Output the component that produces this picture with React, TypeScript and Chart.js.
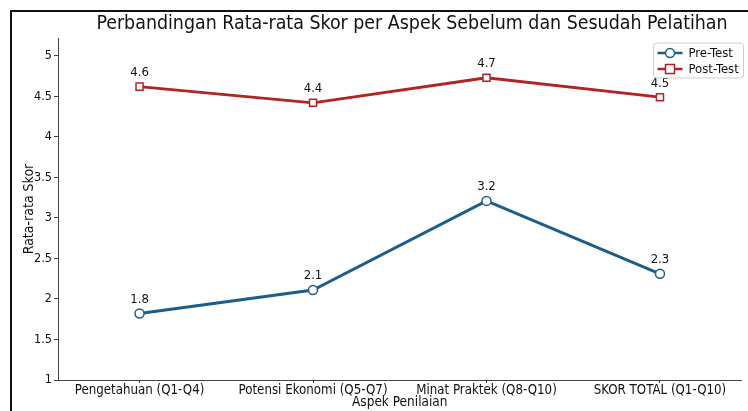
import React, { useEffect, useRef } from "react";
import { Chart, registerables } from "chart.js";

Chart.register(...registerables);

const categories = [
  "Pengetahuan (Q1-Q4)",
  "Potensi Ekonomi (Q5-Q7)",
  "Minat Praktek (Q8-Q10)",
  "SKOR TOTAL (Q1-Q10)",
];
const preTest = [1.82, 2.11, 3.21, 2.31];
const postTest = [4.62, 4.42, 4.73, 4.49];
const yTicks = [1, 1.5, 2, 2.5, 3, 3.5, 4, 4.5, 5];
const seriesNames = ["Pre-Test", "Post-Test"];
const titleText = "Perbandingan Rata-rata Skor per Aspek Sebelum dan Sesudah Pelatihan";

const FONT = "'DejaVu Sans Condensed', 'Liberation Sans Narrow', 'DejaVu Sans', sans-serif";
const BLUE = "#1d5d89";
const RED = "#b22424";

const titlePlugin = {
  id: "customTitle",
  afterDraw(chart: any) {
    const ctx = chart.ctx;
    ctx.save();
    ctx.font = `19.4px ${FONT}`;
    ctx.fillStyle = "#111";
    ctx.textAlign = "center";
    ctx.textBaseline = "middle";
    ctx.fillText(titleText, 412, 24);
    ctx.restore();
  },
};

const labelPlugin = {
  id: "pointLabels",
  afterDatasetsDraw(chart: any) {
    const ctx = chart.ctx;
    ctx.save();
    ctx.font = `13px ${FONT}`;
    ctx.fillStyle = "#111";
    ctx.textAlign = "center";
    ctx.textBaseline = "middle";
    chart.data.datasets.forEach((ds: any, i: number) => {
      const meta = chart.getDatasetMeta(i);
      meta.data.forEach((pt: any, j: number) => {
        ctx.fillText(Number(ds.data[j].y).toFixed(1), pt.x, pt.y - 14);
      });
    });
    ctx.restore();
  },
};

const legendPlugin = {
  id: "boxLegend",
  afterDraw(chart: any) {
    const ctx = chart.ctx;
    const area = chart.chartArea;
    const w = 90;
    const h = 35;
    const x = area.right - w + 2;
    const y = area.top + 5;
    ctx.save();
    ctx.beginPath();
    ctx.roundRect(x, y, w, h, 3);
    ctx.fillStyle = "rgba(255,255,255,0.85)";
    ctx.fill();
    ctx.strokeStyle = "#cfcfcf";
    ctx.lineWidth = 1;
    ctx.stroke();
    chart.data.datasets.forEach((ds: any, i: number) => {
      const cy = y + 10 + i * 16;
      const lx = x + 4;
      ctx.strokeStyle = ds.borderColor;
      ctx.lineWidth = 2.5;
      ctx.beginPath();
      ctx.moveTo(lx, cy);
      ctx.lineTo(lx + 25, cy);
      ctx.stroke();
      ctx.fillStyle = "#fff";
      ctx.lineWidth = 1.5;
      ctx.beginPath();
      if (ds.pointStyle === "rect") {
        ctx.rect(lx + 12.5 - 4.5, cy - 4.5, 9, 9);
      } else {
        ctx.arc(lx + 12.5, cy, 4.5, 0, Math.PI * 2);
      }
      ctx.fill();
      ctx.stroke();
      ctx.fillStyle = "#111";
      ctx.font = `13px ${FONT}`;
      ctx.textAlign = "left";
      ctx.textBaseline = "middle";
      ctx.fillText(ds.label, lx + 31, cy + 1);
    });
    ctx.restore();
  },
};

export default function App() {
  const ref = useRef<HTMLCanvasElement | null>(null);
  useEffect(() => {
    if (!ref.current) return;
    const mk = (vals: number[]) => vals.map((v, i) => ({ x: i, y: v }));
    const chart = new Chart(ref.current, {
      type: "line",
      data: {
        datasets: [
          {
            label: seriesNames[0],
            data: mk(preTest),
            borderColor: BLUE,
            backgroundColor: "#fff",
            borderWidth: 2.9,
            pointStyle: "circle",
            pointRadius: 4.5,
            pointBorderWidth: 1.5,
            pointBorderColor: BLUE,
            pointBackgroundColor: "#fff",
          },
          {
            label: seriesNames[1],
            data: mk(postTest),
            borderColor: RED,
            backgroundColor: "#fff",
            borderWidth: 2.9,
            pointStyle: "rect",
            pointRadius: 5,
            pointBorderWidth: 1.5,
            pointBorderColor: RED,
            pointBackgroundColor: "#fff",
          },
        ],
      },
      options: {
        animation: false,
        responsive: false,
        layout: { padding: { left: 0, right: 5, top: 38, bottom: 0 } },
        plugins: {
          legend: { display: false },
          tooltip: { enabled: false },
          title: { display: false },
        },
        scales: {
          x: {
            type: "linear",
            min: -0.47,
            max: 3.47,
            afterBuildTicks: (s: any) => {
              s.ticks = categories.map((_, i) => ({ value: i }));
            },
            afterFit: (s: any) => {
              s.height = 31;
            },
            ticks: {
              color: "#111",
              font: { family: FONT, size: 13.2 },
              padding: 0,
              maxRotation: 0,
              autoSkip: false,
              callback: (v: any) => categories[v] ?? "",
            },
            grid: { display: true, drawOnChartArea: false, tickLength: 3, color: "#444" },
            border: { display: true, color: "#444", width: 1 },
            title: {
              display: true,
              text: "Aspek Penilaian",
              color: "#111",
              font: { family: FONT, size: 13.5 },
              padding: { top: 0, bottom: 0 },
            },
          },
          y: {
            type: "linear",
            min: 1,
            max: 5.22,
            afterBuildTicks: (s: any) => {
              s.ticks = yTicks.map((v) => ({ value: v }));
            },
            afterFit: (s: any) => {
              s.width = 58;
            },
            ticks: {
              color: "#111",
              font: { family: FONT, size: 12.5 },
              padding: 2,
              callback: (v: any) => String(v),
            },
            grid: { display: true, drawOnChartArea: false, tickLength: 4, color: "#444" },
            border: { display: true, color: "#444", width: 1 },
            title: {
              display: true,
              text: "Rata-rata Skor",
              color: "#111",
              font: { family: FONT, size: 14 },
              padding: { top: 21, bottom: 0 },
            },
          },
        },
      },
      plugins: [titlePlugin, labelPlugin, legendPlugin],
    } as any);
    return () => chart.destroy();
  }, []);
  return (
    <div style={{ position: "fixed", left: 0, top: 0, width: 748, height: 411, background: "#fff" }}>
      <canvas ref={ref} width={748} height={411} style={{ width: 748, height: 411 }} />
      <div
        style={{
          position: "absolute",
          left: 10,
          top: 10,
          right: 0,
          bottom: 0,
          borderLeft: "2px solid #111",
          borderTop: "2px solid #111",
          pointerEvents: "none",
        }}
      />
    </div>
  );
}
